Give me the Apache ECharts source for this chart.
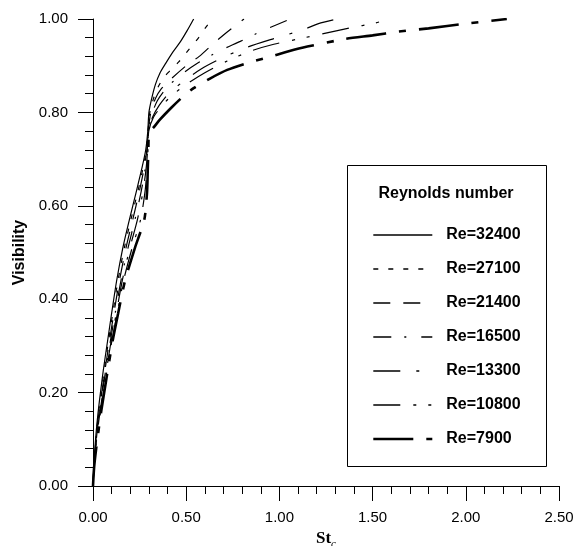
<!DOCTYPE html>
<html>
<head>
<meta charset="utf-8">
<script src="https://cdn.jsdelivr.net/npm/echarts@6/dist/echarts.min.js"></script>
<style>html,body{margin:0;padding:0;background:#fff}#c{width:574px;height:546px}</style>
</head>
<body>
<div id="c"></div>
<script>
// Tick labels
var xTicks = ['0.00','0.50','1.00','1.50','2.00','2.50'];
var yTicks = ['0.00','0.20','0.40','0.60','0.80','1.00'];
var seriesNames = ['Re=32400','Re=27100','Re=21400','Re=16500','Re=13300','Re=10800','Re=7900'];

// Each curve: [St_c, Visibility]
var re32400 = [[0,0],[0.004,0.04],[0.01,0.08],[0.018,0.12],[0.028,0.16],[0.04,0.2],[0.056,0.25],[0.078,0.31],[0.1,0.37],[0.127,0.44],[0.16,0.51],[0.195,0.57],[0.232,0.63],[0.262,0.68],[0.283,0.72],[0.294,0.76],[0.30,0.80],[0.315,0.83],[0.335,0.86],[0.36,0.885],[0.39,0.905],[0.43,0.93],[0.47,0.952],[0.505,0.975],[0.54,1.0]];
var re27100 = [[0,0],[0.004,0.04],[0.011,0.08],[0.02,0.12],[0.031,0.16],[0.044,0.2],[0.061,0.25],[0.083,0.31],[0.106,0.37],[0.134,0.44],[0.168,0.51],[0.203,0.57],[0.24,0.63],[0.268,0.68],[0.286,0.72],[0.295,0.76],[0.305,0.80],[0.325,0.83],[0.35,0.855],[0.38,0.875],[0.415,0.89],[0.46,0.908],[0.515,0.935],[0.57,0.962],[0.605,0.982],[0.64,1.0]];
var re21400 = [[0,0],[0.005,0.04],[0.012,0.08],[0.021,0.12],[0.033,0.16],[0.047,0.2],[0.065,0.25],[0.088,0.31],[0.112,0.37],[0.142,0.44],[0.177,0.51],[0.213,0.57],[0.248,0.63],[0.274,0.68],[0.289,0.72],[0.296,0.76],[0.31,0.80],[0.335,0.83],[0.365,0.85],[0.42,0.872],[0.5,0.9],[0.57,0.92],[0.645,0.947],[0.72,0.972],[0.81,1.0]];
var re16500 = [[0,0],[0.005,0.04],[0.013,0.08],[0.023,0.12],[0.035,0.16],[0.05,0.2],[0.069,0.25],[0.093,0.31],[0.119,0.37],[0.15,0.44],[0.188,0.51],[0.225,0.57],[0.258,0.63],[0.28,0.68],[0.291,0.72],[0.297,0.76],[0.315,0.795],[0.345,0.825],[0.39,0.85],[0.46,0.877],[0.56,0.905],[0.68,0.932],[0.79,0.952],[0.91,0.975],[1.06,1.0]];
var re13300 = [[0,0],[0.005,0.04],[0.014,0.08],[0.025,0.12],[0.038,0.16],[0.053,0.2],[0.073,0.25],[0.097,0.31],[0.125,0.37],[0.157,0.44],[0.198,0.51],[0.238,0.57],[0.268,0.63],[0.285,0.68],[0.293,0.72],[0.298,0.76],[0.32,0.79],[0.355,0.815],[0.405,0.84],[0.48,0.865],[0.58,0.893],[0.7,0.918],[0.83,0.94],[0.97,0.958],[1.12,0.976],[1.21,0.99],[1.31,1.0]];
var re10800 = [[0,0],[0.006,0.04],[0.015,0.08],[0.027,0.12],[0.041,0.16],[0.056,0.2],[0.076,0.25],[0.101,0.31],[0.13,0.37],[0.164,0.44],[0.21,0.51],[0.255,0.57],[0.279,0.63],[0.29,0.68],[0.295,0.72],[0.299,0.76],[0.325,0.79],[0.365,0.812],[0.42,0.835],[0.5,0.86],[0.6,0.885],[0.72,0.91],[0.85,0.932],[0.97,0.946],[1.1,0.957],[1.23,0.968],[1.38,0.981],[1.51,0.991],[1.59,1.0]];
var re7900 = [[0,0],[0.006,0.04],[0.017,0.08],[0.03,0.12],[0.044,0.16],[0.06,0.2],[0.08,0.25],[0.105,0.31],[0.135,0.37],[0.172,0.44],[0.225,0.51],[0.275,0.57],[0.29,0.63],[0.294,0.68],[0.297,0.72],[0.30,0.755],[0.33,0.77],[0.36,0.785],[0.42,0.81],[0.48,0.833],[0.54,0.852],[0.63,0.873],[0.72,0.891],[0.83,0.906],[0.94,0.918],[1.05,0.931],[1.15,0.941],[1.35,0.957],[1.5,0.965],[1.64,0.973],[1.8,0.98],[2.0,0.99],[2.22,1.0]];

var curves = [re32400, re27100, re21400, re16500, re13300, re10800, re7900];
var dashes = ['solid', [5,10], [17,13], [18,13,2,15], [27,16,3,16], [27,13,3,12,3,13], [40,13,7,13]];
var widths = [1.2, 1.2, 1.2, 1.2, 1.2, 1.2, 2.6];

var chart = echarts.init(document.getElementById('c'), null, {renderer: 'canvas'});
var fam = 'Liberation Sans, Arial, sans-serif';

var series = curves.map(function (d, i) {
  return {
    name: seriesNames[i],
    type: 'line',
    data: d,
    symbol: 'none',
    smooth: 0.25,
    silent: true,
    animation: false,
    lineStyle: {color: '#000', width: widths[i], type: dashes[i]},
    itemStyle: {color: '#000'}
  };
});

var legendData = seriesNames.map(function (n, i) {
  return {name: n, lineStyle: {width: i === 6 ? 2.6 : 1.4, type: dashes[i], color: '#000'}};
});

chart.setOption({
  animation: false,
  grid: {left: 93, right: 15, top: 19, bottom: 60, containLabel: false, outerBoundsMode: 'none'},
  xAxis: {
    type: 'value', min: 0, max: 2.5, interval: 0.5,
    name: '{s|St}{c|c}', nameLocation: 'middle', nameGap: 40,
    nameTextStyle: {
      rich: {
        s: {fontFamily: 'Liberation Serif, Times New Roman, serif', fontWeight: 'bold', fontSize: 17, color: '#000', lineHeight: 20, verticalAlign: 'top'},
        c: {fontFamily: 'Liberation Serif, Times New Roman, serif', fontStyle: 'italic', fontSize: 11, color: '#000', lineHeight: 20, verticalAlign: 'bottom'}
      }
    },
    axisLine: {show: true, lineStyle: {color: '#000', width: 1}},
    axisTick: {show: true, inside: false, length: 15, lineStyle: {color: '#000'}},
    minorTick: {show: true, splitNumber: 5, length: 8, lineStyle: {color: '#000'}},
    splitLine: {show: false},
    axisLabel: {margin: 24, fontFamily: fam, fontSize: 15, color: '#000',
      formatter: function (v) { return xTicks[Math.round(v / 0.5)]; }}
  },
  yAxis: {
    type: 'value', min: 0, max: 1, interval: 0.2,
    name: 'Visibility', nameLocation: 'middle', nameGap: 64,
    nameTextStyle: {fontFamily: fam, fontWeight: 'bold', fontSize: 16, color: '#000'},
    axisLine: {show: true, lineStyle: {color: '#000', width: 1}},
    axisTick: {show: true, inside: false, length: 15, lineStyle: {color: '#000'}},
    minorTick: {show: true, splitNumber: 5, length: 8, lineStyle: {color: '#000'}},
    splitLine: {show: false},
    axisLabel: {margin: 25, fontFamily: fam, fontSize: 15, color: '#000',
      formatter: function (v) { return yTicks[Math.round(v / 0.2)]; }}
  },
  legend: {
    orient: 'vertical', left: 367, top: 222,
    itemWidth: 59, itemHeight: 14, itemGap: 18,
    selectedMode: false,
    data: legendData,
    itemStyle: {opacity: 0},
    textStyle: {fontFamily: fam, fontWeight: 'bold', fontSize: 16, color: '#000', padding: [0, 0, 0, 9]}
  },
  graphic: [
    {type: 'rect', silent: true, shape: {x: 347.5, y: 165.5, width: 199, height: 301},
      style: {fill: 'rgba(0,0,0,0)', stroke: '#000', lineWidth: 1}, z: 10},
    {type: 'text', silent: true, x: 446, y: 194, z: 11,
      style: {text: 'Reynolds number', fontFamily: fam, fontWeight: 'bold', fontSize: 16, fill: '#000', align: 'center', verticalAlign: 'middle'}}
  ],
  series: series
});
</script>
</body>
</html>
